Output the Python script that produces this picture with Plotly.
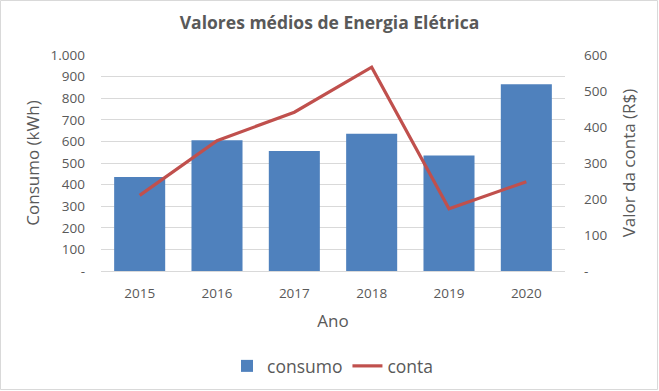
import plotly.graph_objects as go

anos = ["2015", "2016", "2017", "2018", "2019", "2020"]
consumo = [435, 605, 555, 635, 535, 865]
conta = [210, 362, 441, 566, 173, 248]

left_vals = [0, 100, 200, 300, 400, 500, 600, 700, 800, 900, 1000]
left_text = ["-", "100", "200", "300", "400", "500", "600", "700", "800", "900", "1.000"]
right_vals = [0, 100, 200, 300, 400, 500, 600]
right_text = ["-", "100", "200", "300", "400", "500", "600"]

FONT = "Open Sans"
GREY = "#595959"
W, H = 659, 391
L, R, T, B = 101, 94, 55, 120
PW, PH = W - L - R, H - T - B

fig = go.Figure()
fig.add_trace(go.Bar(x=anos, y=consumo, name="consumo", marker_color="#4F81BD",
                     marker_line_width=0))
fig.add_trace(go.Scatter(x=anos, y=conta, name="conta", yaxis="y2", mode="lines",
                         line=dict(color="#C0504D", width=3.2)))

fig.update_layout(
    width=W, height=H,
    margin=dict(l=L, r=R, t=T, b=B, autoexpand=False),
    paper_bgcolor="white", plot_bgcolor="white",
    font=dict(family=FONT, color=GREY),
    bargap=0.34,
    title=dict(text="<b>Valores médios de Energia Elétrica</b>", x=0.5, xanchor="center",
               y=1 - 23 / H, yanchor="middle", font=dict(size=17.5, color=GREY, family=FONT)),
    xaxis=dict(title=dict(text="Ano", font=dict(size=17, color=GREY), standoff=13),
               tickfont=dict(size=13.5, color=GREY), showline=True, linecolor="#D9D9D9",
               ticks="", showgrid=False, automargin=False, ticklabelstandoff=10),
    yaxis=dict(title=dict(text="Consumo (kWh)", font=dict(size=17, color=GREY), standoff=6),
               range=[0, 1000], tickvals=left_vals, ticktext=left_text,
               tickfont=dict(size=13.5, color=GREY), showgrid=True, gridcolor="#D9D9D9",
               zeroline=False, ticklabelstandoff=15, automargin=False),
    yaxis2=dict(title=dict(text="Valor da conta (R$)", font=dict(size=17, color=GREY), standoff=16),
                range=[0, 600], tickvals=right_vals, ticktext=right_text, overlaying="y",
                side="right", tickfont=dict(size=13.5, color=GREY), showgrid=False,
                zeroline=False, ticklabelstandoff=18, automargin=False),
    legend=dict(orientation="h", x=0.5, xanchor="center", yref="container", y=1 - 366 / H,
                yanchor="middle", font=dict(size=17.5, color=GREY)),
    shapes=[dict(type="rect", xref="paper", yref="paper", x0=-(L - 0.5) / PW, x1=1 + (R - 1.5) / PW,
                 y0=-(B - 1.5) / PH, y1=1 + (T - 0.5) / PH, line=dict(color="#D9D9D9", width=1))],
)

fig.write_html("out.html", config={"displayModeBar": False},
               post_script="document.body.style.margin='0';document.body.style.overflow='hidden';")
